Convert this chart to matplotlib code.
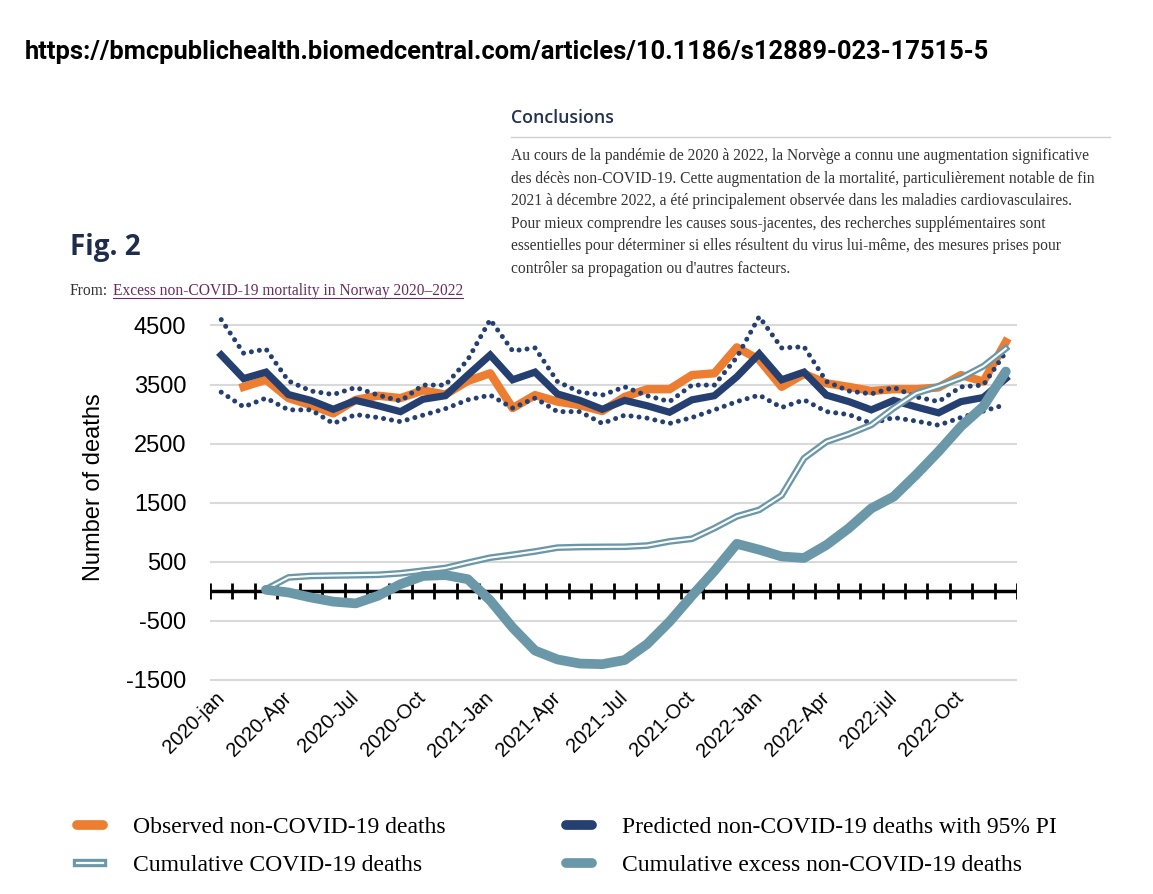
import matplotlib
matplotlib.use("Agg")
import matplotlib.pyplot as plt
import numpy as np
from matplotlib.lines import Line2D

nan = np.nan

# monthly data, 2020-jan .. 2022-dec
tick_labels = ["2020-jan", "2020-Apr", "2020-Jul", "2020-Oct", "2021-Jan", "2021-Apr",
               "2021-Jul", "2021-Oct", "2022-Jan", "2022-Apr", "2022-jul", "2022-Oct"]

observed = [nan, 3460, 3580, 3270, 3150, 3010, 3240, 3310, 3270, 3400, 3330, 3560,
            3690, 3100, 3320, 3210, 3150, 3050, 3290, 3420, 3420, 3660, 3690, 4130,
            3920, 3460, 3680, 3520, 3460, 3390, 3420, 3420, 3450, 3660, 3550, 4220]

predicted = [4000, 3600, 3710, 3330, 3230, 3080, 3230, 3140, 3040, 3250, 3310, 3660,
             4000, 3580, 3710, 3340, 3230, 3080, 3230, 3140, 3030, 3240, 3310, 3630,
             4020, 3580, 3710, 3320, 3210, 3070, 3230, 3120, 3020, 3210, 3280, 3600]

upper_pi = [4600, 4030, 4100, 3560, 3390, 3330, 3450, 3320, 3220, 3490, 3490, 3920,
            4600, 4070, 4120, 3550, 3370, 3320, 3460, 3310, 3210, 3490, 3490, 3960,
            4650, 4120, 4140, 3550, 3390, 3340, 3450, 3290, 3210, 3460, 3490, 4050]

lower_pi = [3370, 3120, 3270, 3070, 3070, 2840, 2990, 2940, 2870, 2980, 3090, 3240,
            3320, 3100, 3270, 3040, 3040, 2840, 2980, 2930, 2840, 2940, 3070, 3210,
            3320, 3110, 3240, 3040, 2990, 2840, 2940, 2880, 2810, 2940, 3050, 3160]

cum_covid = [nan, nan, 30, 230, 255, 262, 268, 275, 300, 345, 390, 480,
             565, 615, 670, 735, 745, 748, 750, 770, 840, 885, 1065, 1265,
             1375, 1620, 2250, 2530, 2660, 2815, 3100, 3350, 3470, 3610, 3810, 4110]

cum_excess = [nan, nan, 20, -25, -110, -180, -210, -80, 115, 255, 270, 200,
              -160, -620, -1010, -1160, -1230, -1240, -1170, -900, -520, -80, 340, 800,
              700, 585, 560, 780, 1065, 1400, 1600, 1970, 2365, 2790, 3130, 3720]

y_ticks = [-1500, -500, 500, 1500, 2500, 3500, 4500]

ORANGE = "#ED7D31"
NAVY = "#253F70"
TEAL = "#6A98A8"

fig = plt.figure(figsize=(11.53, 8.94), dpi=100)
W, H = 1153, 894

# header texts
fig.text(25 / W, 1 - 52 / H,
         "https://bmcpublichealth.biomedcentral.com/articles/10.1186/s12889-023-17515-5",
         fontsize=18.4, fontweight="bold", family="Roboto", va="center", color="black")
fig.text(511 / W, 1 - 118 / H, "Conclusions", fontsize=12.8, family="Open Sans",
         fontweight="semibold", color="#22314F", va="center")
fig.add_artist(Line2D([511 / W, 1110 / W], [1 - 137 / H, 1 - 137 / H],
                      color="#d0d0d0", lw=1))
para = ["Au cours de la pandémie de 2020 à 2022, la Norvège a connu une augmentation significative",
        "des décès non-COVID-19. Cette augmentation de la mortalité, particulièrement notable de fin",
        "2021 à décembre 2022, a été principalement observée dans les maladies cardiovasculaires.",
        "Pour mieux comprendre les causes sous-jacentes, des recherches supplémentaires sont",
        "essentielles pour déterminer si elles résultent du virus lui-même, des mesures prises pour",
        "contrôler sa propagation ou d'autres facteurs."]
for k, line in enumerate(para):
    fig.text(511 / W, 1 - (156 + 22.6 * k) / H, line, fontsize=11.2,
             family="Liberation Serif", color="#333333", va="center")

fig.text(70 / W, 1 - 248 / H, "Fig. 2", fontsize=20, family="Open Sans",
         fontweight="bold", color="#1F2D4D", va="center")
fig.text(70 / W, 1 - 291 / H, "From:", fontsize=11.2, family="Liberation Serif",
         color="#333333", va="center")
link = fig.text(113 / W, 1 - 291 / H, "Excess non-COVID-19 mortality in Norway 2020\u20132022",
                fontsize=11.2, family="Liberation Serif", color="#6B2B5E", va="center")

# chart
ax = fig.add_axes([210 / W, 1 - 685.4 / H, 807 / W, 365.8 / H])
x = np.arange(len(predicted))

ax.plot(x, observed, color=ORANGE, lw=6, solid_joinstyle="round", zorder=3)
ax.plot(x, predicted, color=NAVY, lw=5.2, solid_joinstyle="miter", zorder=4)
for pi in (upper_pi, lower_pi):
    ax.plot(x, pi, color=NAVY, lw=3.6, linestyle=(0, (0.01, 1.6)),
            dash_capstyle="round", zorder=5, clip_on=False)
ax.plot(x, cum_covid, color=TEAL, lw=4.8, zorder=6)
ax.plot(x, cum_covid, color="white", lw=1.5, zorder=6)
ax.plot(x, cum_excess, color=TEAL, lw=7, solid_capstyle="round", zorder=7)

# zero axis with crossing ticks
ax.axhline(0, color="black", lw=2.5, zorder=2)
ax.vlines(np.arange(-0.5, len(x)), -140, 140, color="black", lw=2, zorder=2)

ax.set_xlim(-0.5, len(x) - 0.5)
ax.set_ylim(-1600, 4600)
ax.set_yticks(y_ticks)
ax.set_yticklabels([str(v) for v in y_ticks], family="Liberation Sans", fontsize=17)
ax.set_xticks(x[::3])
ax.set_xticklabels(tick_labels, rotation=45, ha="right", va="center", rotation_mode="anchor",
                   family="Liberation Sans", fontsize=14.5)
ax.tick_params(axis="y", length=0, pad=17)
ax.tick_params(axis="x", length=0, pad=7)
ax.grid(axis="y", color="#d9d9d9", lw=1.5, zorder=0)
ax.set_axisbelow(True)
for s in ax.spines.values():
    s.set_visible(False)
ax.set_ylabel("Number of deaths", family="Liberation Sans", fontsize=17)
ax.yaxis.set_label_coords(-0.13, 0.542)

# legend
h_obs = Line2D([], [], color=ORANGE, lw=7, solid_capstyle="round")
h_pred = Line2D([], [], color=NAVY, lw=7, solid_capstyle="round")
h_cc = (Line2D([], [], color=TEAL, lw=6), Line2D([], [], color="white", lw=1.6))
h_ex = Line2D([], [], color=TEAL, lw=7, solid_capstyle="round")
fig.legend([h_obs, h_cc, h_pred, h_ex],
           ["Observed non-COVID-19 deaths", "Cumulative COVID-19 deaths",
            "Predicted non-COVID-19 deaths with 95% PI", "Cumulative excess non-COVID-19 deaths"],
           ncol=2, loc="upper left", bbox_to_anchor=(65 / W, 1 - 805 / H), frameon=False,
           prop={"family": "Liberation Serif", "size": 17}, handlelength=1.1,
           handletextpad=1.27, columnspacing=5.1, labelspacing=0.68, borderpad=0)

# underline for the link
fig.canvas.draw()
bb = link.get_window_extent()
fig.add_artist(Line2D([bb.x0 / W, bb.x1 / W], [(bb.y0 + 1) / H, (bb.y0 + 1) / H],
                      color="#6B2B5E", lw=0.8))

fig.savefig("out.png", dpi=100, facecolor="white")
